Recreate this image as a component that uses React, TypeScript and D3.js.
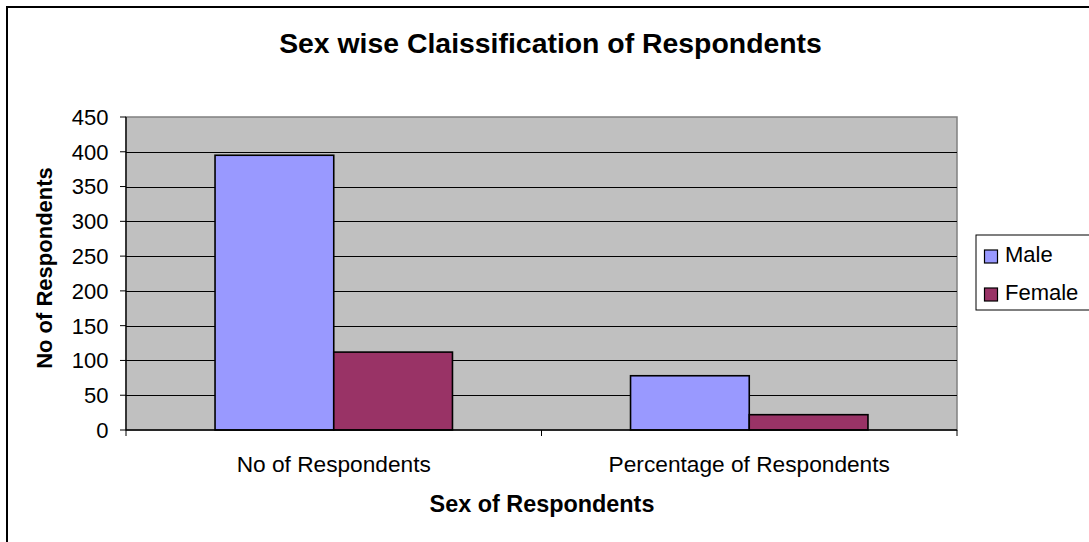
import React from "react";
import * as d3 from "d3";

const categories = ["No of Respondents", "Percentage of Respondents"];
const seriesNames = ["Male", "Female"];
const maleValues = [395, 78];
const femaleValues = [112, 22];
const yTicks = [0, 50, 100, 150, 200, 250, 300, 350, 400, 450];
const colors = ["#9999FF", "#993366"];

const W = 1089;
const H = 542;
const plot = { left: 126, top: 117, right: 957, bottom: 430 };
const FONT = "'Liberation Sans', Arial, Helvetica, sans-serif";

export default function App() {
  const seriesValues = [maleValues, femaleValues];
  const x = d3.scaleBand<string>().domain(categories).range([plot.left, plot.right]);
  const xInner = d3
    .scaleBand<string>()
    .domain(seriesNames)
    .range([0, x.bandwidth()])
    .paddingInner(0)
    .paddingOuter(0.75);
  const y = d3.scaleLinear().domain([0, 450]).range([plot.bottom, plot.top]);

  const catTicks = d3.range(categories.length + 1).map((i) => plot.left + i * x.step());

  return (
    <svg
      width={W}
      height={H}
      style={{ position: "absolute", left: 0, top: 0, background: "#fff" }}
      fontFamily={FONT}
    >
      {/* chart frame */}
      <rect x={7} y={7} width={W + 20} height={H + 20} fill="#fff" stroke="#000" strokeWidth={2} />

      {/* title */}
      <text x={550.5} y={53.3} textAnchor="middle" fontSize={28.4} fontWeight="bold" fill="#000">
        Sex wise Claissification of Respondents
      </text>

      {/* plot background */}
      <rect
        x={plot.left}
        y={plot.top}
        width={plot.right - plot.left}
        height={plot.bottom - plot.top}
        fill="#C0C0C0"
        stroke="#808080"
        strokeWidth={1.5}
      />

      {/* gridlines */}
      {yTicks
        .filter((t) => t > 0 && t < 450)
        .map((t) => (
          <line
            key={"g" + t}
            x1={plot.left}
            x2={plot.right}
            y1={Math.round(y(t)) + 0.5}
            y2={Math.round(y(t)) + 0.5}
            stroke="#000"
            strokeWidth={1}
          />
        ))}

      {/* bars */}
      {categories.map((c, ci) =>
        seriesNames.map((s, si) => {
          const v = seriesValues[si][ci];
          const bx = (x(c) as number) + (xInner(s) as number);
          return (
            <rect
              key={c + s}
              x={bx}
              y={y(v)}
              width={xInner.bandwidth()}
              height={plot.bottom - y(v)}
              fill={colors[si]}
              stroke="#000"
              strokeWidth={1.6}
            />
          );
        })
      )}

      {/* y axis */}
      <line x1={plot.left} x2={plot.left} y1={plot.top} y2={plot.bottom} stroke="#000" strokeWidth={1.3} />
      {yTicks.map((t) => (
        <g key={"y" + t}>
          <line x1={plot.left - 6} x2={plot.left} y1={y(t)} y2={y(t)} stroke="#000" strokeWidth={1} />
          <text x={108.5} y={y(t) + 7.9} textAnchor="end" fontSize={22} fill="#000">
            {t}
          </text>
        </g>
      ))}

      {/* x axis */}
      <line x1={plot.left} x2={plot.right} y1={plot.bottom} y2={plot.bottom} stroke="#000" strokeWidth={1.3} />
      {catTicks.map((tx, i) => (
        <line key={"xt" + i} x1={tx} x2={tx} y1={plot.bottom} y2={plot.bottom + 6} stroke="#000" strokeWidth={1} />
      ))}
      {categories.map((c) => (
        <text
          key={"xl" + c}
          x={(x(c) as number) + x.bandwidth() / 2}
          y={471.7}
          textAnchor="middle"
          fontSize={22.7}
          fill="#000"
        >
          {c}
        </text>
      ))}

      {/* axis titles */}
      <text x={542} y={511.7} textAnchor="middle" fontSize={23.4} fontWeight="bold" fill="#000">
        Sex of Respondents
      </text>
      <text
        transform={`translate(51.5, 268) rotate(-90)`}
        textAnchor="middle"
        fontSize={22}
        fontWeight="bold"
        fill="#000"
      >
        No of Respondents
      </text>

      {/* legend */}
      <rect x={976} y={235} width={120} height={75} fill="#fff" stroke="#000" strokeWidth={1} />
      {seriesNames.map((s, i) => (
        <g key={"lg" + s}>
          <rect
            x={984.5}
            y={250 + i * 38}
            width={13}
            height={13}
            fill={colors[i]}
            stroke="#000"
            strokeWidth={1.2}
          />
          <text x={1005} y={262 + i * 38} fontSize={22} fill="#000">
            {s}
          </text>
        </g>
      ))}
    </svg>
  );
}
